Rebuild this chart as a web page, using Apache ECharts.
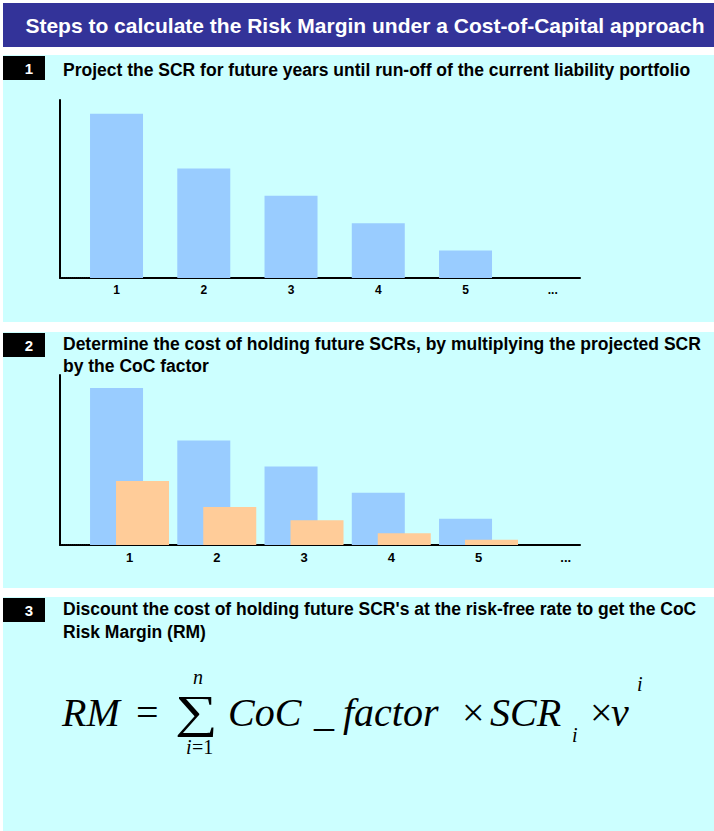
<!DOCTYPE html>
<html>
<head>
<meta charset="utf-8">
<title>Risk Margin under a Cost-of-Capital approach</title>
<script src="https://cdn.jsdelivr.net/npm/echarts@6/dist/echarts.min.js"></script>
<style>
  html, body { margin: 0; padding: 0; background: #fff; }
  #rm-chart { width: 714px; height: 831px; }
</style>
</head>
<body>
<div id="rm-chart"></div>
<script>
// projection years, the last one stands for "and so on"
var years = ["1", "2", "3", "4", "5", "..."];
// projected SCR per year (relative units)
var scrProjected = [6, 4, 3, 2, 1, null];
// cost of holding the SCR (SCR x CoC factor)
var cocCost = [2.45, 1.45, 0.95, 0.45, 0.2, null];
var scrAxisMax = 6.5;

var pageTitle = "Steps to calculate the Risk Margin under a Cost-of-Capital approach";
var stepNumbers = ["1", "2", "3"];
var stepTexts = [
    ["Project the SCR for future years until run-off of the current liability portfolio"],
    ["Determine the cost of holding future SCRs, by multiplying the projected SCR", "by the CoC factor"],
    ["Discount the cost of holding future SCR's at the risk-free rate to get the CoC", "Risk Margin (RM)"]
];

var BLUE = "#99ccff", ORANGE = "#ffcc99", PANEL = "#ccffff", NAVY = "#333399";
var SANS = "Arial, 'Liberation Sans', sans-serif";
var SERIF = "'Times New Roman', 'Liberation Serif', serif";

var el = document.getElementById("rm-chart");
var chart = echarts.init(el, null, { renderer: "svg" });

// panel layout: [top, height] of each cyan block and y of its heading lines
var panels = [
    { top: 55, height: 267, box: 56, lines: [70] },
    { top: 332, height: 256, box: 333, lines: [344, 366] },
    { top: 597, height: 234, box: 598, lines: [609, 632] }
];

var graphics = [
    { type: "rect", z: -20, shape: { x: 3, y: 3, width: 711, height: 44 }, style: { fill: NAVY } },
    {
        type: "text", z: 10, x: 365, y: 25,
        style: { text: pageTitle, fill: "#fff", font: "bold 21px " + SANS, align: "center", verticalAlign: "middle" }
    }
];
panels.forEach(function(p, i) {
    graphics.push({ type: "rect", z: -20, shape: { x: 3, y: p.top, width: 711, height: p.height }, style: { fill: PANEL } });
    graphics.push({ type: "rect", z: -10, shape: { x: 3, y: p.box, width: 42, height: 24 }, style: { fill: "#000" } });
    graphics.push({
        type: "text", z: 10, x: 29, y: p.box + 12,
        style: { text: stepNumbers[i], fill: "#fff", font: "bold 15px " + SANS, align: "center", verticalAlign: "middle" }
    });
    stepTexts[i].forEach(function(t, k) {
        graphics.push({
            type: "text", z: 10, x: 63, y: p.lines[k],
            style: { text: t, fill: "#000", font: "bold 17.5px " + SANS, align: "left", verticalAlign: "middle" }
        });
    });
});

// the RM formula of step 3
var formula = [
    { t: "RM", x: 62, y: 712, f: "italic 40px " + SERIF },
    { t: "=", x: 136, y: 712, f: "40px " + SERIF },
    { t: "\u2211", x: 175, y: 711, f: "46px " + SERIF, sx: 1.3 },
    { t: "n", x: 193, y: 677, f: "italic 20px " + SERIF },
    { t: "i", x: 186, y: 747, f: "italic 20px " + SERIF },
    { t: "=1", x: 192, y: 747, f: "20px " + SERIF },
    { t: "CoC", x: 228, y: 712, f: "italic 40px " + SERIF },
    { t: "_", x: 314, y: 712, f: "40px " + SERIF },
    { t: "factor", x: 343, y: 712, f: "italic 40px " + SERIF },
    { t: "\u00d7", x: 462, y: 712, f: "40px " + SERIF },
    { t: "SCR", x: 490, y: 712, f: "italic 40px " + SERIF },
    { t: "i", x: 572, y: 735, f: "italic 20px " + SERIF },
    { t: "\u00d7", x: 590, y: 712, f: "40px " + SERIF },
    { t: "v", x: 611, y: 712, f: "italic 40px " + SERIF },
    { t: "i", x: 637, y: 684, f: "italic 20px " + SERIF }
];
formula.forEach(function(f) {
    graphics.push({
        type: "text", z: 10, x: f.x, y: f.y, scaleX: f.sx || 1,
        style: { text: f.t, fill: "#000", font: f.f, align: "left", verticalAlign: "middle" }
    });
});

function frameX(grid, dotted) {
    return {
        gridIndex: grid, type: "value", min: 0, max: 1,
        axisLine: { show: true, onZero: false, lineStyle: { color: "#000", width: 2, type: dotted ? [1, 1] : "solid" } },
        axisTick: { show: false }, axisLabel: { show: false }, splitLine: { show: false }
    };
}
function frameY(grid, visible) {
    return {
        gridIndex: grid, type: "value", min: 0, max: 1, show: visible,
        axisLine: { show: true, onZero: false, lineStyle: { color: "#000", width: 2 } },
        axisTick: { show: false }, axisLabel: { show: false }, splitLine: { show: false }
    };
}
function barX(grid, size) {
    return {
        gridIndex: grid, type: "category", data: years,
        axisLine: { show: false }, axisTick: { show: false },
        axisLabel: { color: "#000", fontWeight: "bold", fontSize: size, fontFamily: SANS, margin: 6 }
    };
}
function barY(grid) {
    return { gridIndex: grid, type: "value", min: 0, max: scrAxisMax, show: false };
}

var option = {
    backgroundColor: "#fff",
    animation: false,
    graphic: graphics,
    grid: [
        { left: 60, top: 100, width: 520, height: 178 },
        { left: 90, top: 100, width: 490, height: 178 },
        { left: 72.9, top: 100, width: 523.5, height: 178 },
        { left: 60, top: 375, width: 520, height: 170 },
        { left: 90, top: 375, width: 490, height: 170 },
        { left: 85.9, top: 375, width: 523.5, height: 170 }
    ],
    xAxis: [frameX(0, true), frameX(1, false), barX(2, 12), frameX(3, true), frameX(4, false), barX(5, 13)],
    yAxis: [frameY(0, true), frameY(1, false), barY(2), frameY(3, true), frameY(4, false), barY(5)],
    series: [
        {
            name: "Projected SCR", type: "bar", xAxisIndex: 2, yAxisIndex: 2,
            barWidth: 53, itemStyle: { color: BLUE }, data: scrProjected
        },
        {
            name: "Projected SCR", type: "bar", xAxisIndex: 5, yAxisIndex: 5,
            barWidth: 53, barGap: "-51%", itemStyle: { color: BLUE }, data: scrProjected
        },
        {
            name: "Cost of holding SCR", type: "bar", xAxisIndex: 5, yAxisIndex: 5,
            barWidth: 53, barGap: "-51%", itemStyle: { color: ORANGE }, data: cocCost
        }
    ]
};
chart.setOption(option);
</script>
</body>
</html>
